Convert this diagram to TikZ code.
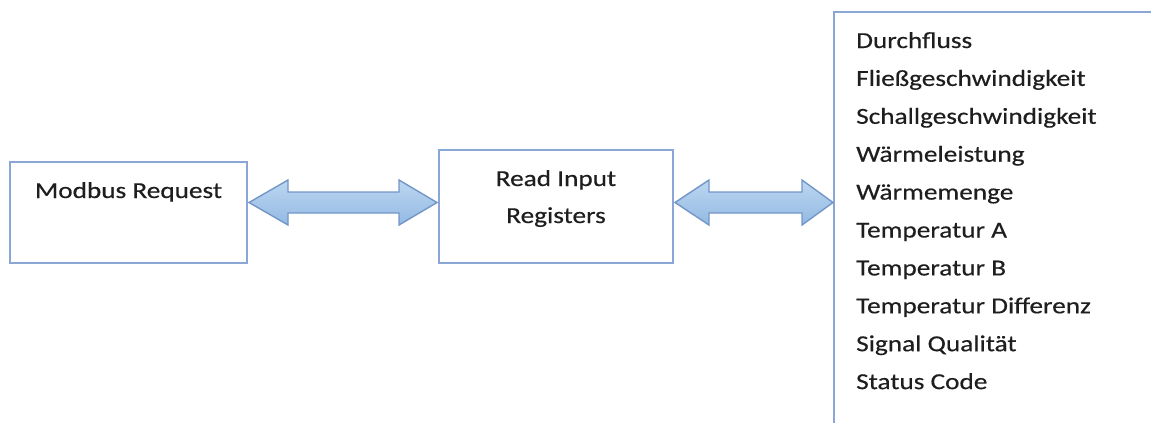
\documentclass[tikz,border=0pt]{standalone}
\usepackage{fontspec}
\setmainfont{Carlito}[FakeStretch=1.19,FakeBold=0.4]
\usetikzlibrary{calc}
\definecolor{boxline}{HTML}{8AA6D4}
\definecolor{arrline}{HTML}{7396C8}
\definecolor{arrtop}{HTML}{BCD7F1}
\definecolor{arrbot}{HTML}{93B9E2}
\definecolor{txt}{HTML}{1E1E1E}
\tikzset{
  box/.style={draw=boxline, line width=2bp, fill=white, inner sep=0pt},
  lbl/.style={anchor=base, inner sep=0pt, text=txt, font=\fontsize{23}{37.5}\selectfont},
  itm/.style={anchor=base west, inner sep=0pt, text=txt, font=\fontsize{23}{37.5}\selectfont},
  fatarrow/.style={draw=arrline, line width=1.4bp, top color=arrtop, bottom color=arrbot, line join=miter},
}
\begin{document}
\begin{tikzpicture}[x=1bp,y=-1bp]
\useasboundingbox (0,0) rectangle (1151,422);
% boxes
\node[box, minimum width=237bp, minimum height=101bp] (mb) at (128.5,212.5) {};
\node[lbl] (mbt) at (128.5,198) {Modbus Request};
\node[box, minimum width=234bp, minimum height=113bp] (ri) at (556,206.5) {};
\node[lbl] (rit1) at (556,186) {Read Input};
\node[lbl] (rit2) at (556,223) {Registers};
% right (cropped) box
\coordinate (rbtr) at (1152,12);
\coordinate (rbtl) at (834,12);
\coordinate (rbbl) at (834,423);
\draw[boxline, line width=2bp] (rbtr) -- (rbtl) -- (rbbl);
% list
\foreach \t [count=\i from 0] in {Durchfluss,Flie{\ss}geschwindigkeit,Schallgeschwindigkeit,W{\"a}rmeleistung,W{\"a}rmemenge,Temperatur A,Temperatur B,Temperatur Differenz,Signal Qualit{\"a}t,Status Code}
  \node[itm] (it\i) at (856,48+37.9*\i) {\t};
% arrows
\draw[fatarrow] let \p1=(mb.east), \p2=(ri.west) in
  (\x1+1bp,-202.5bp) -- (\x1+40bp,-180bp) -- (\x1+40bp,-192bp) -- (\x2-39bp,-192bp)
  -- (\x2-39bp,-180bp) -- (\x2-1bp,-202.5bp) -- (\x2-39bp,-225bp) -- (\x2-39bp,-213bp)
  -- (\x1+40bp,-213bp) -- (\x1+40bp,-225bp) -- cycle;
\draw[fatarrow] let \p1=(ri.east), \p2=(rbtl) in
  (\x1+1bp,-202.5bp) -- (\x1+35bp,-180bp) -- (\x1+35bp,-192bp) -- (\x2-32bp,-192bp)
  -- (\x2-32bp,-180bp) -- (\x2-1bp,-202.5bp) -- (\x2-32bp,-225bp) -- (\x2-32bp,-213bp)
  -- (\x1+35bp,-213bp) -- (\x1+35bp,-225bp) -- cycle;
\end{tikzpicture}
\end{document}
